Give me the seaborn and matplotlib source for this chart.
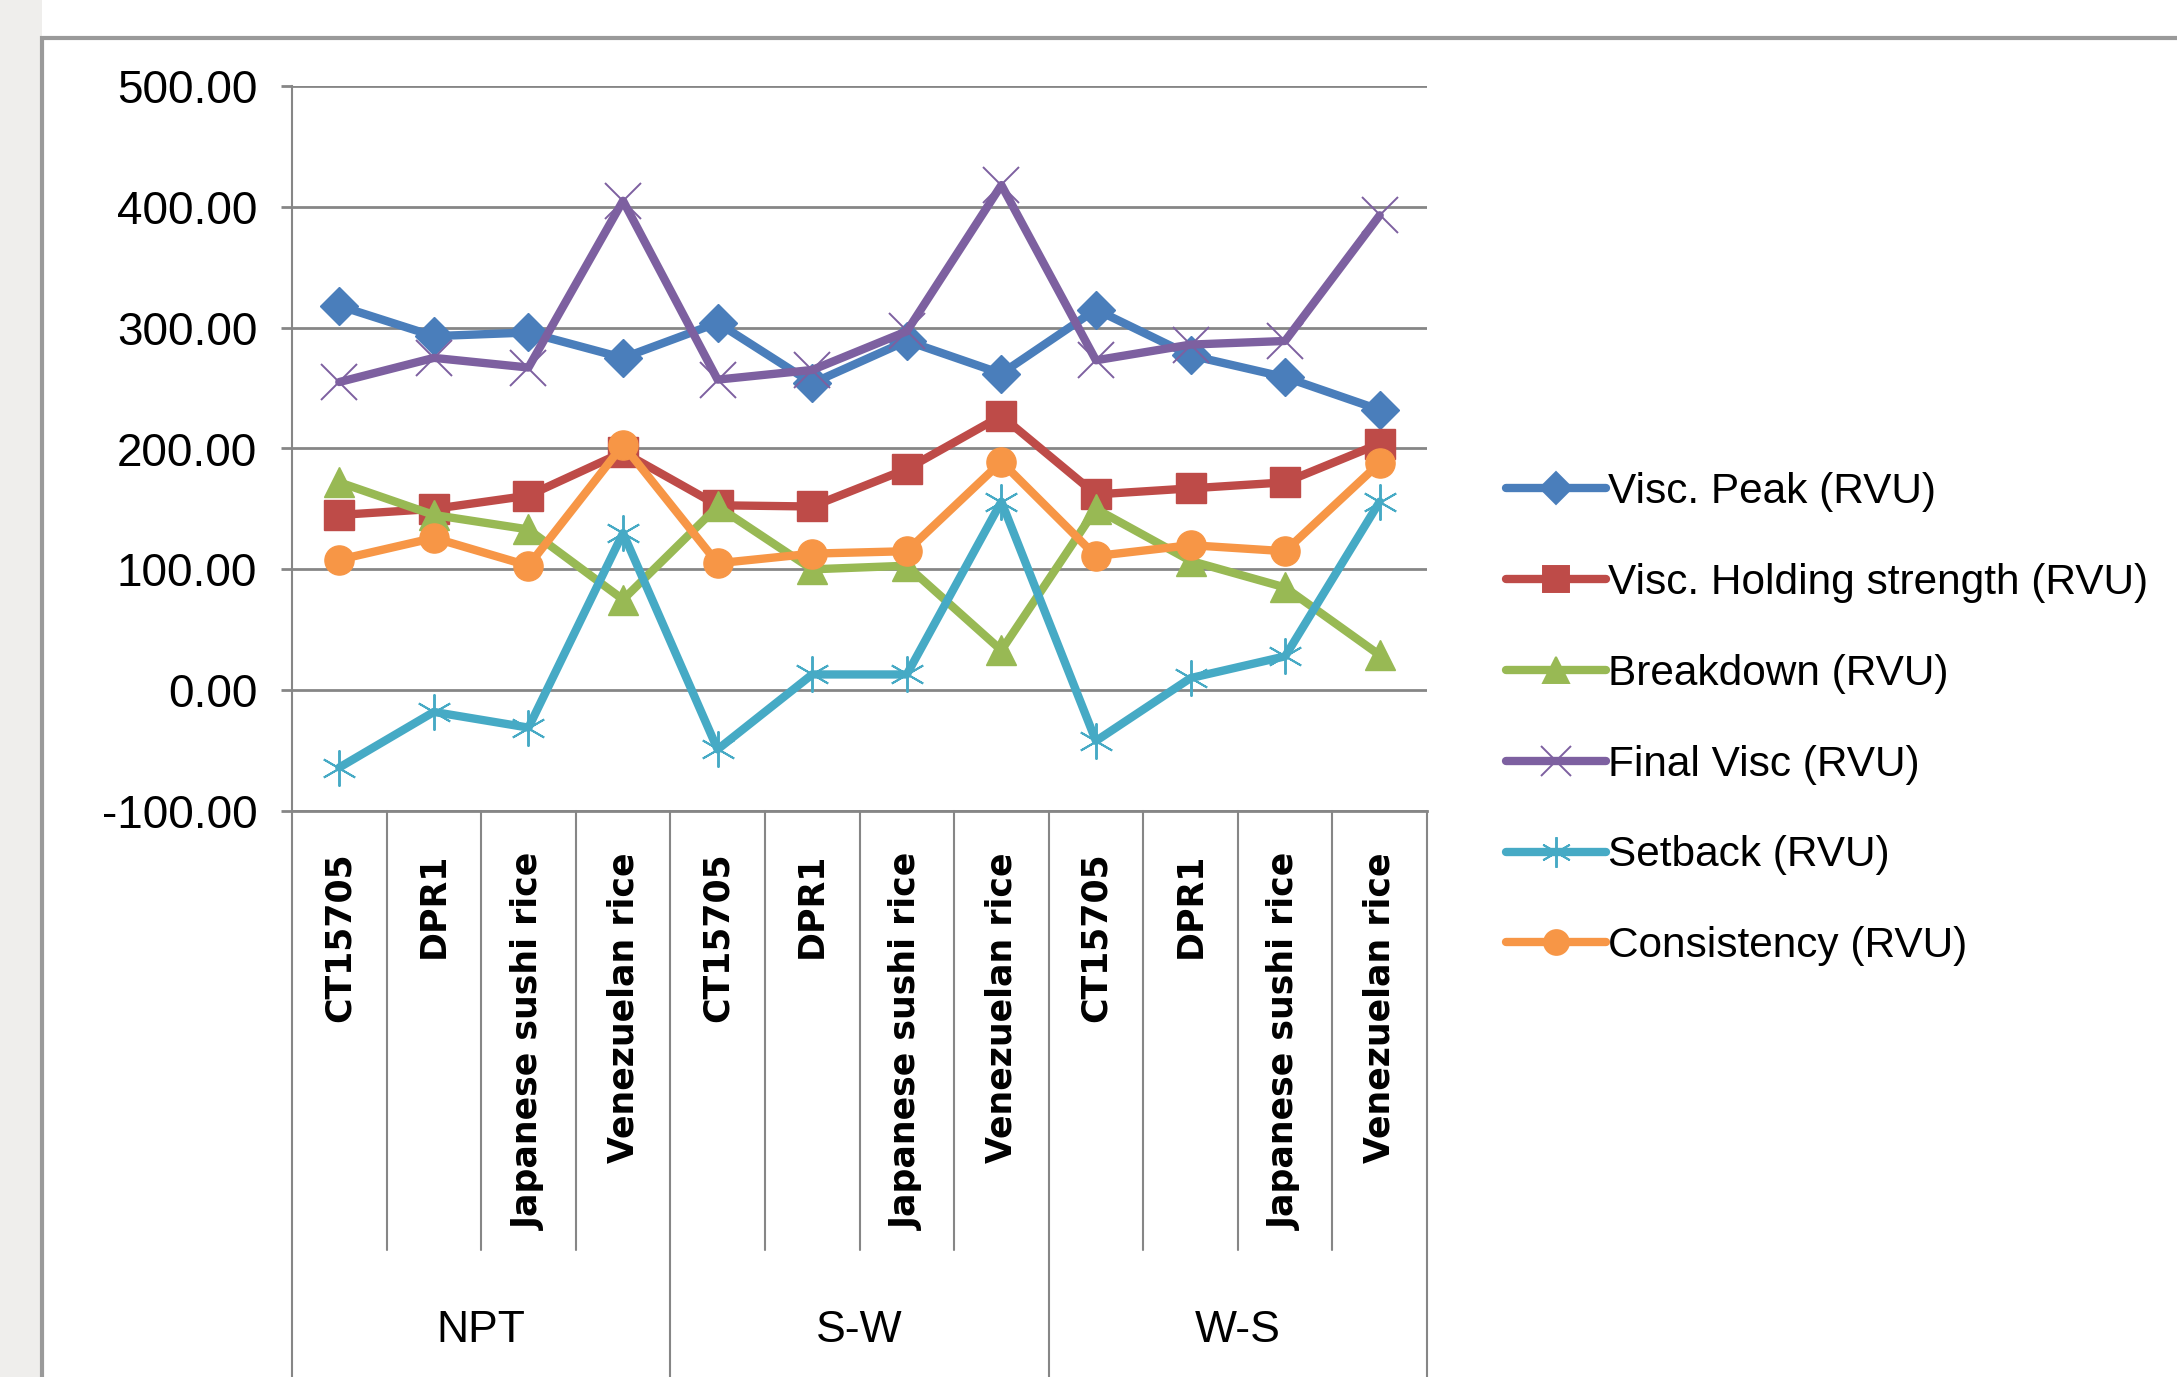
import numpy as np
import pandas as pd
import matplotlib
matplotlib.use('Agg')
import matplotlib.pyplot as plt
import seaborn as sns
from matplotlib.patches import Rectangle
from matplotlib.lines import Line2D

# data
varieties = ['CT15705', 'DPR1', 'Japanese sushi rice', 'Venezuelan rice'] * 3
groups = ['NPT', 'S-W', 'W-S']
visc_peak = [318, 293, 296, 275, 304, 254, 289, 262, 315, 277, 259, 232]
visc_holding = [145, 150, 161, 197, 153, 152, 183, 227, 162, 167, 172, 204]
breakdown = [172, 145, 133, 75, 152, 100, 103, 33, 150, 107, 85, 29]
final_visc = [255, 275, 267, 405, 257, 265, 297, 418, 273, 286, 289, 393]
setback = [-64, -18, -31, 130, -49, 13, 13, 156, -42, 10, 28, 156]
consistency = [108, 126, 103, 203, 105, 113, 115, 189, 111, 120, 115, 188]

series_names = ['Visc. Peak (RVU)', 'Visc. Holding strength (RVU)', 'Breakdown (RVU)',
                'Final Visc (RVU)', 'Setback (RVU)', 'Consistency (RVU)']
series_vals = [visc_peak, visc_holding, breakdown, final_visc, setback, consistency]
colors = ['#4A7EBB', '#BE4B48', '#98B954', '#7D60A0', '#46AAC5', '#F79646']
markers = ['D', 's', '^', 'x', (6, 2, 0), 'o']
msizes = [19, 22, 22, 26, 26, 21]

df = pd.DataFrame({'pos': np.tile(np.arange(12), 6),
                   'value': np.concatenate(series_vals),
                   'series': np.repeat(series_names, 12)})

sns.set_style('white')
plt.rcParams['font.family'] = ['Liberation Sans', 'DejaVu Sans']
plt.rcParams['text.color'] = 'black'
plt.rcParams['xtick.color'] = 'black'
plt.rcParams['ytick.color'] = 'black'

fig = plt.figure(figsize=(21.77, 13.77), dpi=100)
W, H = 2177, 1377

# page background + chart frame
fig.patches.append(Rectangle((0, 0), 42 / W, 1, transform=fig.transFigure,
                             facecolor='#efeeec', edgecolor='none', zorder=-2))
fig.patches.append(Rectangle((42 / W, -0.01), 1, 1 - 38 / H + 0.01, transform=fig.transFigure,
                             facecolor='white', edgecolor='#9a9a9a', lw=3, zorder=-2))

ax = fig.add_axes([292 / W, (H - 811) / H, (1427 - 292) / W, (811 - 86) / H])
ax.set_zorder(2)
ax.set_facecolor('none')

for name, c, m, ms in zip(series_names, colors, markers, msizes):
    sub = df[df['series'] == name]
    thin = m in ('x',) or isinstance(m, tuple)
    sns.lineplot(data=sub, x='pos', y='value', ax=ax, color=c, lw=6,
                 marker=m, markersize=ms, markeredgecolor=c,
                 markeredgewidth=1.4 if thin else 1, legend=False, zorder=3)

ax.set_xlim(-0.5, 11.5)
ax.set_ylim(-100, 500)
ax.set_yticks(np.arange(-100, 501, 100))
ax.set_yticklabels([f'{v:.2f}' for v in np.arange(-100, 501, 100)], fontsize=33)
ax.yaxis.grid(True, color='#868686', lw=2)
ax.set_axisbelow(True)
for s in ['top', 'right']:
    ax.spines[s].set_visible(False)
ax.spines['left'].set_color('#868686')
ax.spines['left'].set_linewidth(1.5)
ax.spines['bottom'].set_color('#868686')
ax.spines['bottom'].set_linewidth(2)
ax.tick_params(axis='y', which='both', left=True, length=8, width=2, color='#868686',
               labelcolor='black', pad=17)
ax.set_xlabel('')
ax.set_ylabel('')

ax.set_xticks(np.arange(12))
ax.set_xticklabels(varieties, rotation=90, fontsize=25, family='DejaVu Sans',
                   fontweight='bold', va='top', ha='center')
ax.tick_params(axis='x', length=0, pad=30, labelcolor='black')

# category separators below the axis
axis_h = 811 - 86
inner_bot = -(1250 - 811) / axis_h
for i in range(13):
    xb = i - 0.5
    bot = -(H - 811) / axis_h if i % 4 == 0 else inner_bot
    ax.plot([xb, xb], [0, bot], transform=ax.get_xaxis_transform(),
            color='#868686', lw=1.5, clip_on=False)

for g, grp in enumerate(groups):
    ax.text(g * 4 + 1.5, -(1330 - 811) / axis_h, grp, transform=ax.get_xaxis_transform(),
            ha='center', va='center', fontsize=32, color='black')

handles = [Line2D([0], [0], color=c, lw=6, marker=m, markersize=ms * 0.85,
                  markeredgecolor=c, markeredgewidth=1.4)
           for c, m, ms in zip(colors, markers, msizes)]
fig.legend(handles, series_names, loc='upper left', bbox_to_anchor=(1506 / W, (H - 472) / H),
           frameon=False, fontsize=30.5, handlelength=2.35, handletextpad=0.05,
           labelspacing=1.2, borderaxespad=0, borderpad=0, labelcolor='black')

fig.savefig('out.png', dpi=100)
